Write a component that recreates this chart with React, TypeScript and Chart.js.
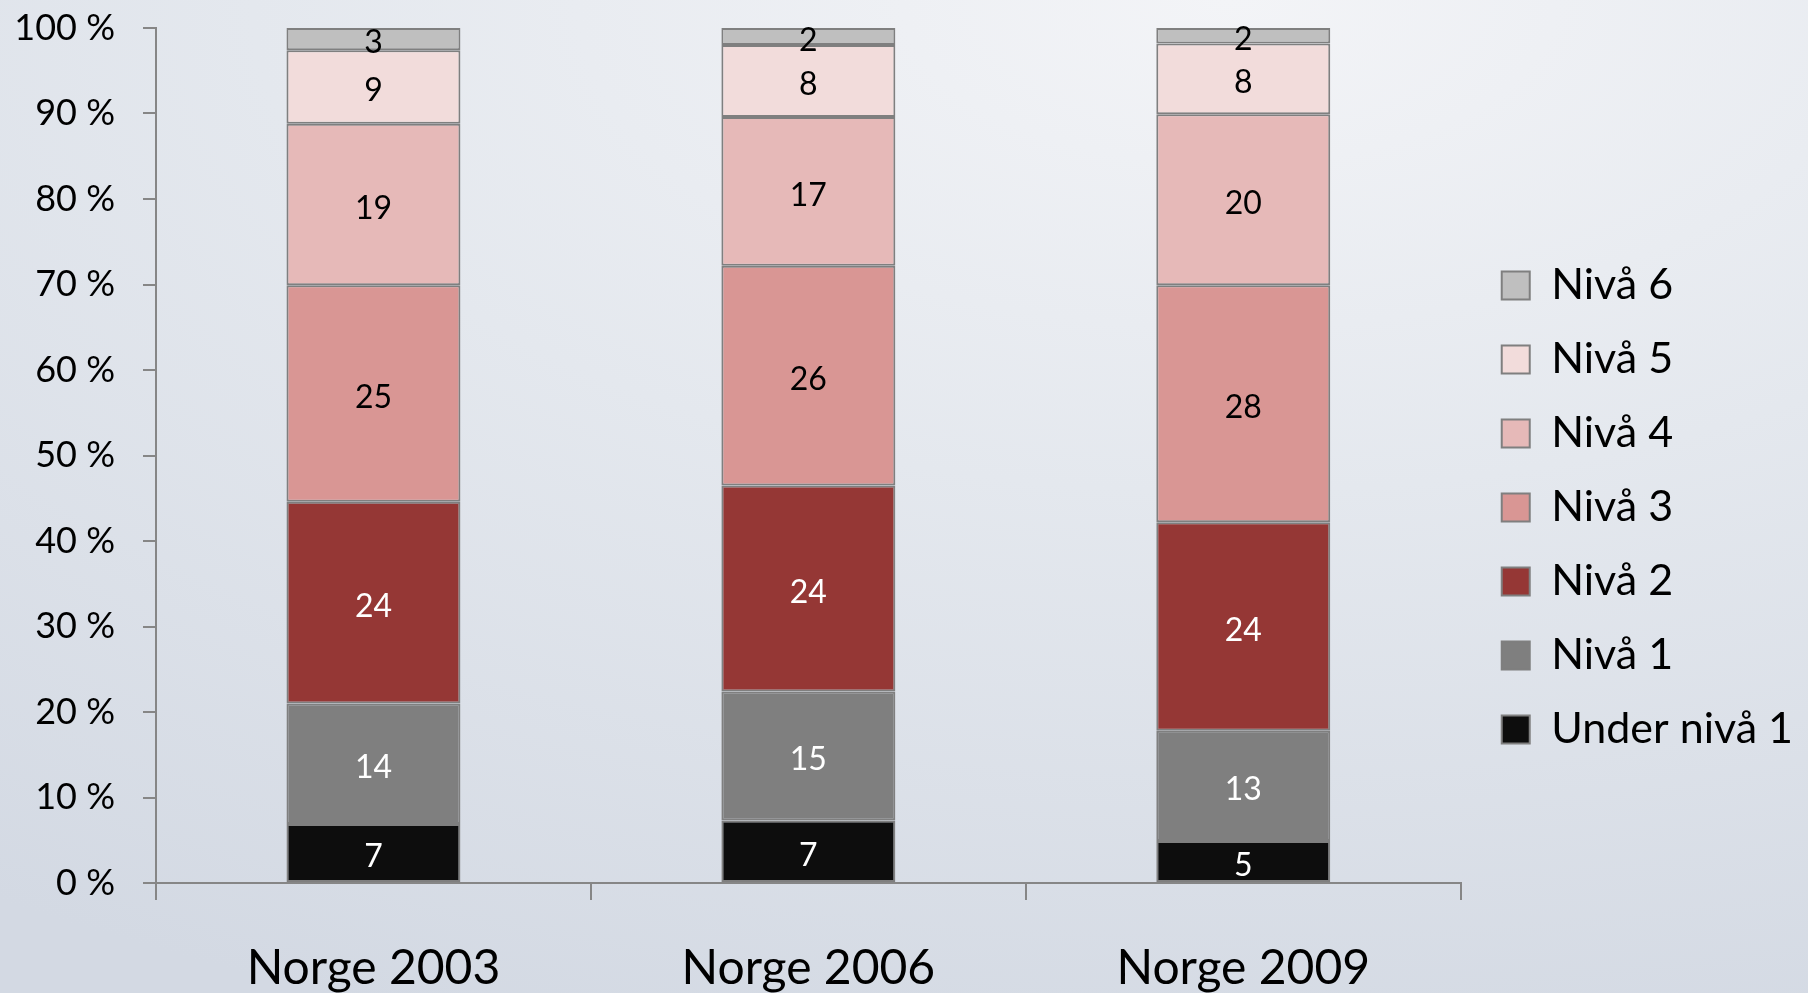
import React, { useEffect, useRef } from "react";
import { Chart, registerables } from "chart.js";

Chart.register(...registerables);

const categories = ["Norge 2003", "Norge 2006", "Norge 2009"];
const seriesNames = ["Under nivå 1", "Nivå 1", "Nivå 2", "Nivå 3", "Nivå 4", "Nivå 5", "Nivå 6"];
const underNiva1 = [6.9, 7.3, 4.9];
const niva1 = [14.1, 15.1, 12.9];
const niva2 = [23.6, 24.1, 24.4];
const niva3 = [25.3, 25.7, 27.7];
const niva4 = [18.9, 17.4, 20.0];
const niva5 = [8.6, 8.4, 8.3];
const niva6 = [2.6, 2.0, 1.8];
const seriesColors = ["#0d0d0d", "#7f7f7f", "#953735", "#d99694", "#e6b9b8", "#f2dcdb", "#bfbfbf"];
const labelColors = ["#ffffff", "#ffffff", "#ffffff", "#000000", "#000000", "#000000", "#000000"];
const yTicks = [0, 10, 20, 30, 40, 50, 60, 70, 80, 90, 100];

const FONT = "Lato, 'Open Sans', sans-serif";

const valueLabels = {
  id: "valueLabels",
  afterDatasetsDraw(chart: any) {
    const ctx = chart.ctx;
    ctx.save();
    ctx.font = `32px ${FONT}`;
    ctx.textAlign = "center";
    ctx.textBaseline = "middle";
    chart.data.datasets.forEach((ds: any, i: number) => {
      const meta = chart.getDatasetMeta(i);
      meta.data.forEach((bar: any, j: number) => {
        const { x, y, base } = bar.getProps(["x", "y", "base"], true);
        ctx.fillStyle = labelColors[i];
        ctx.fillText(String(Math.round(ds.data[j])), x, (y + base) / 2 + 4);
      });
    });
    ctx.restore();
  },
};

const shiftLegend = {
  id: "shiftLegend",
  afterLayout(chart: any) {
    const lg = chart.legend;
    if (lg) {
      lg.left += 10;
      lg.right += 10;
      lg.top -= 3;
      lg.bottom -= 3;
    }
  },
};

export default function App() {
  const ref = useRef<HTMLCanvasElement>(null);
  useEffect(() => {
    document.body.style.margin = "0";
    const values = [underNiva1, niva1, niva2, niva3, niva4, niva5, niva6];
    const chart = new Chart(ref.current!, {
      type: "bar",
      data: {
        labels: categories,
        datasets: values.map((v, i) => ({
          label: seriesNames[i],
          data: v,
          backgroundColor: seriesColors[i],
          borderColor: "#7f7f7f",
          borderWidth: 2,
          borderSkipped: false,
          categoryPercentage: 1,
          barPercentage: 0.4,
        })),
      },
      options: {
        responsive: false,
        animation: false,
        layout: { padding: { top: 28, right: 15, bottom: 0, left: 0 } },
        plugins: {
          tooltip: { enabled: false },
          legend: {
            position: "right",
            reverse: true,
            labels: {
              boxWidth: 28,
              boxHeight: 28,
              padding: 31,
              color: "#000",
              font: { family: FONT, size: 43 },
            },
          },
        },
        scales: {
          x: {
            stacked: true,
            grid: { drawOnChartArea: false, tickLength: 17, color: "#868686", lineWidth: 2 },
            border: { color: "#868686", width: 2 },
            ticks: { color: "#000", font: { family: FONT, size: 48 }, padding: 40 },
            afterFit: (s: any) => {
              s.height = 110;
              s.paddingLeft = 0;
              s.paddingRight = 0;
            },
          },
          y: {
            stacked: true,
            min: 0,
            max: 100,
            afterBuildTicks: (s: any) => {
              s.ticks = yTicks.map((v) => ({ value: v }));
            },
            grid: { drawOnChartArea: false, tickLength: 13, color: "#868686", lineWidth: 2 },
            border: { color: "#868686", width: 2 },
            ticks: {
              color: "#000",
              font: { family: FONT, size: 36 },
              padding: 28,
              callback: (v: any) => `${v} %`,
            },
            afterFit: (s: any) => {
              s.width = 156;
              s.paddingTop = 0;
              s.paddingBottom = 0;
            },
          },
        },
      },
      plugins: [valueLabels, shiftLegend],
    });
    return () => chart.destroy();
  }, []);
  return (
    <div
      style={{
        position: "fixed",
        left: 0,
        top: 0,
        width: 1808,
        height: 993,
        background:
          "radial-gradient(ellipse 120% 110% at 68% 0%, #f3f4f7 0%, #e4e8ee 45%, #d3d9e3 100%)",
      }}
    >
      <canvas ref={ref} width={1808} height={993} style={{ display: "block" }} />
    </div>
  );
}
